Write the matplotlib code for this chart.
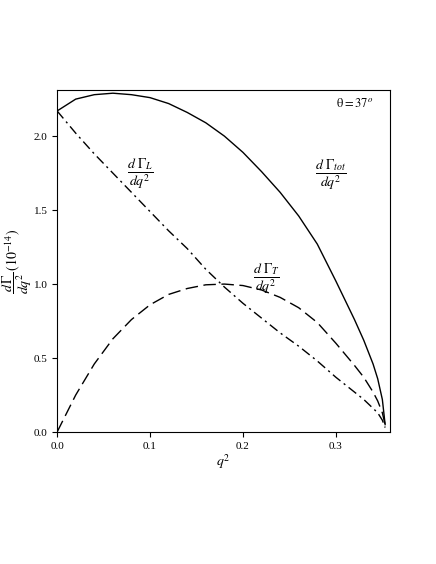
import matplotlib
matplotlib.use("Agg")
import matplotlib.pyplot as plt

plt.rcParams['font.family'] = ['Liberation Serif', 'DejaVu Serif']
plt.rcParams['mathtext.fontset'] = 'stix'

q2 = [0.0, 0.02, 0.04, 0.06, 0.08, 0.10, 0.12, 0.14, 0.16, 0.18, 0.20, 0.22, 0.24, 0.26, 0.28, 0.30, 0.32, 0.33, 0.34, 0.345, 0.35, 0.353]
gL = [2.17, 2.02, 1.88, 1.75, 1.62, 1.49, 1.36, 1.24, 1.10, 0.98, 0.87, 0.77, 0.67, 0.58, 0.48, 0.37, 0.27, 0.22, 0.16, 0.13, 0.08, 0.03]
gT = [0.0, 0.25, 0.46, 0.63, 0.76, 0.86, 0.93, 0.97, 0.995, 1.0, 0.99, 0.96, 0.91, 0.84, 0.74, 0.60, 0.45, 0.37, 0.27, 0.21, 0.13, 0.05]
gTot = [2.17, 2.25, 2.28, 2.29, 2.28, 2.26, 2.22, 2.16, 2.09, 2.00, 1.89, 1.76, 1.62, 1.46, 1.27, 1.02, 0.76, 0.62, 0.46, 0.36, 0.22, 0.05]

fig = plt.figure(figsize=(4.36, 5.64), dpi=100)
ax = fig.add_axes([0.131, 0.234, 0.763, 0.606])
ax.plot(q2, gTot, color='black', lw=1.0)
ax.plot(q2, gL, color='black', lw=1.0, linestyle=(0, (7, 3, 1.5, 3)))
ax.plot(q2, gT, color='black', lw=1.0, linestyle=(0, (9, 4)))
ax.set_xlim(0, 0.358)
ax.set_ylim(0, 2.31)
ax.set_xticks([0.0, 0.1, 0.2, 0.3])
ax.set_yticks([0.0, 0.5, 1.0, 1.5, 2.0])
ax.tick_params(direction='out', labelsize=8, top=False, right=False)
ax.set_xlabel(r'$q^2$', fontsize=10, labelpad=1)
ax.set_ylabel(r'$\dfrac{d\,\Gamma}{dq^2}\,(10^{-14})$', fontsize=10, labelpad=0)
ax.text(0.30, 2.2, r'$\mathrm{\theta} = 37^o$', fontsize=9)
ax.text(0.09, 1.75, r'$\dfrac{d\ \Gamma_L}{dq^2}$', fontsize=10, ha='center', va='center')
ax.text(0.295, 1.74, r'$\dfrac{d\ \Gamma_{tot}}{dq^2}$', fontsize=10, ha='center', va='center')
ax.text(0.225, 1.04, r'$\dfrac{d\ \Gamma_T}{dq^2}$', fontsize=10, ha='center', va='center')
fig.savefig('out.png', dpi=100)
